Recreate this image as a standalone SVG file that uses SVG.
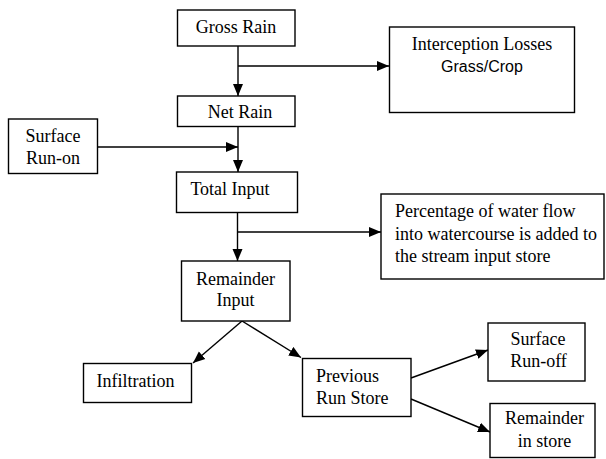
<svg xmlns="http://www.w3.org/2000/svg" width="606" height="459" viewBox="0 0 606 459">
<defs>
<marker id="ah" markerUnits="userSpaceOnUse" markerWidth="13" markerHeight="11" refX="12" refY="5.5" orient="auto">
<path d="M0,0.5 L12,5.5 L0,10.5 Z" fill="#000"/>
</marker>
</defs>
<style>
.box{fill:#fff;stroke:#000;stroke-width:1.4}
.t{font-family:"Liberation Serif","Times New Roman",serif;font-size:18px;fill:#000}
.s{font-family:"Liberation Sans",Arial,sans-serif;font-size:16px;fill:#000}
.c{stroke:#000;stroke-width:1.4;fill:none;marker-end:url(#ah)}
.m{text-anchor:middle}
</style>
<rect width="606" height="459" fill="#fff"/>
<g id="connectors">
<line class="c" x1="238" y1="46" x2="238" y2="96"/>
<line class="c" x1="238" y1="66" x2="389" y2="66"/>
<line class="c" x1="238" y1="127" x2="238" y2="172"/>
<line class="c" x1="98" y1="147" x2="238" y2="147"/>
<line class="c" x1="237.5" y1="213" x2="237.5" y2="261"/>
<line class="c" x1="237.5" y1="232" x2="381" y2="232"/>
<line class="c" x1="242" y1="321" x2="193" y2="363"/>
<line class="c" x1="242" y1="321" x2="301" y2="357.5"/>
<line class="c" x1="411" y1="378" x2="488" y2="350"/>
<line class="c" x1="411" y1="399" x2="490" y2="432"/>
</g>
<g id="gross-rain">
<rect class="box" x="177.5" y="10" width="117.5" height="36"/>
<text class="t m" x="236" y="33">Gross Rain</text>
</g>
<g id="interception">
<rect class="box" x="389.5" y="27" width="185" height="85.5"/>
<text class="t m" x="482" y="50">Interception Losses</text>
<text class="s m" x="482" y="72">Grass/Crop</text>
</g>
<g id="net-rain">
<rect class="box" x="177.5" y="96" width="117.5" height="30.5"/>
<text class="t m" x="240" y="118">Net Rain</text>
</g>
<g id="surface-run-on">
<rect class="box" x="8.5" y="119" width="89" height="54.5"/>
<text class="t m" x="53" y="142">Surface</text>
<text class="t m" x="53" y="163.5">Run-on</text>
</g>
<g id="total-input">
<rect class="box" x="176.5" y="172" width="121" height="40.5"/>
<text class="t m" x="230" y="195">Total Input</text>
</g>
<g id="percentage">
<rect class="box" x="381" y="194" width="223" height="85"/>
<text class="t" x="395" y="217">Percentage of water flow</text>
<text class="t" x="395" y="239.5">into watercourse is added to</text>
<text class="t" x="395" y="262">the stream input store</text>
</g>
<g id="remainder-input">
<rect class="box" x="181.5" y="261" width="108.5" height="60"/>
<text class="t m" x="235.5" y="284.5">Remainder</text>
<text class="t m" x="235.5" y="306">Input</text>
</g>
<g id="infiltration">
<rect class="box" x="83.5" y="363.5" width="108" height="39"/>
<text class="t m" x="135.5" y="387">Infiltration</text>
</g>
<g id="previous-run-store">
<rect class="box" x="302.5" y="358.5" width="108.5" height="58"/>
<text class="t" x="316" y="382">Previous</text>
<text class="t" x="316" y="404">Run Store</text>
</g>
<g id="surface-run-off">
<rect class="box" x="488" y="323" width="97" height="58"/>
<text class="t m" x="538" y="345">Surface</text>
<text class="t m" x="538.5" y="367">Run-off</text>
</g>
<g id="remainder-in-store">
<rect class="box" x="490" y="403.5" width="105" height="54"/>
<text class="t m" x="544.5" y="424">Remainder</text>
<text class="t m" x="544.5" y="446.5">in store</text>
</g>
</svg>
